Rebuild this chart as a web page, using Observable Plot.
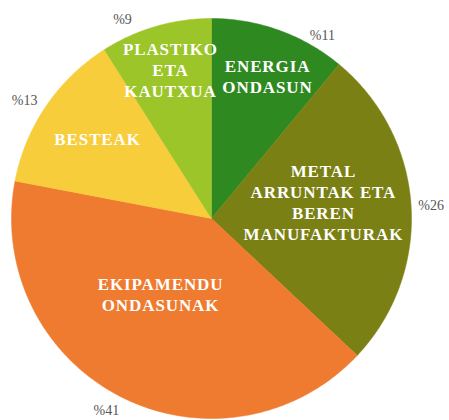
<!DOCTYPE html>
<html>
<head>
<meta charset="utf-8">
<script src="https://cdn.jsdelivr.net/npm/d3@7"></script>
<script src="https://cdn.jsdelivr.net/npm/@observablehq/plot@0.6"></script>
<style>
  html, body { margin: 0; padding: 0; background: #fff; }
</style>
</head>
<body>
<div id="chart"></div>
<script>
// ---- data ----
const categories = ["ENERGIA ONDASUN", "METAL ARRUNTAK ETA BEREN MANUFAKTURAK", "EKIPAMENDU ONDASUNAK", "BESTEAK", "PLASTIKO ETA KAUTXUA"];
const labelLines = ["ENERGIA\nONDASUN", "METAL\nARRUNTAK ETA\nBEREN\nMANUFAKTURAK", "EKIPAMENDU\nONDASUNAK", "BESTEAK", "PLASTIKO\nETA\nKAUTXUA"];
const shares = [11, 26, 41, 13, 9];
const percentLabels = ["%11", "%26", "%41", "%13", "%9"];
const colors = ["#2e8a20", "#7a8014", "#ee7b2f", "#f8cd3b", "#9cc52a"];

// ---- styling / placement config (not data) ----
const inner = [ {r: 0.768, da: 1.6}, {r: 0.566, da: -5}, {r: 0.453, da: 7.2}, {r: 0.696, da: 0.9}, {r: 0.773, da: 0.8} ];
const outer = [ {r: 1.07, da: 11.4}, {r: 1.10, da: 0.2}, {r: 1.094, da: 1.7}, {r: 1.105, da: -1.9}, {r: 1.09, da: -7.9} ];

const arcs = d3.pie().sort(null).value(d => d)(shares);
const rad = Math.PI / 180;

const slices = arcs.map((a, i) => {
  const pts = [{x: 0, y: 0}];
  const n = Math.max(2, Math.ceil((a.endAngle - a.startAngle) / (0.5 * rad)));
  for (let k = 0; k <= n; k++) {
    const t = a.startAngle + (a.endAngle - a.startAngle) * k / n;
    pts.push({x: Math.sin(t), y: Math.cos(t)});
  }
  pts.push({x: 0, y: 0});
  return pts;
});

const innerLabels = arcs.map((a, i) => {
  const t = (a.startAngle + a.endAngle) / 2 + inner[i].da * rad;
  return {x: inner[i].r * Math.sin(t), y: inner[i].r * Math.cos(t), text: labelLines[i]};
});
const outerLabels = arcs.map((a, i) => {
  const t = (a.startAngle + a.endAngle) / 2 + outer[i].da * rad;
  return {x: outer[i].r * Math.sin(t), y: outer[i].r * Math.cos(t), text: percentLabels[i]};
});

const serif = "Liberation Serif";

const chart = Plot.plot({
  width: 449,
  height: 420,
  margin: 0,
  x: {domain: [-211 / 200, 238 / 200], axis: null},
  y: {domain: [-202 / 200, 218 / 200], axis: null},
  marks: [
    ...slices.map((pts, i) => Plot.line(pts, {x: "x", y: "y", fill: colors[i], stroke: colors[i], strokeWidth: 0.5, curve: "linear"})),
    Plot.text(innerLabels, {
      x: "x", y: "y", text: "text",
      fill: "#fff", fontWeight: "bold", fontSize: 17, lineHeight: 1.24,
      fontFamily: serif, textAnchor: "middle", className: "inner-labels"
    }),
    Plot.text(outerLabels, {
      x: "x", y: "y", text: "text",
      fill: "#555", fontSize: 14,
      fontFamily: serif, textAnchor: "middle"
    })
  ]
});
chart.querySelectorAll(".inner-labels text").forEach(t => t.setAttribute("letter-spacing", "0.9"));
document.getElementById("chart").appendChild(chart);
</script>
</body>
</html>
